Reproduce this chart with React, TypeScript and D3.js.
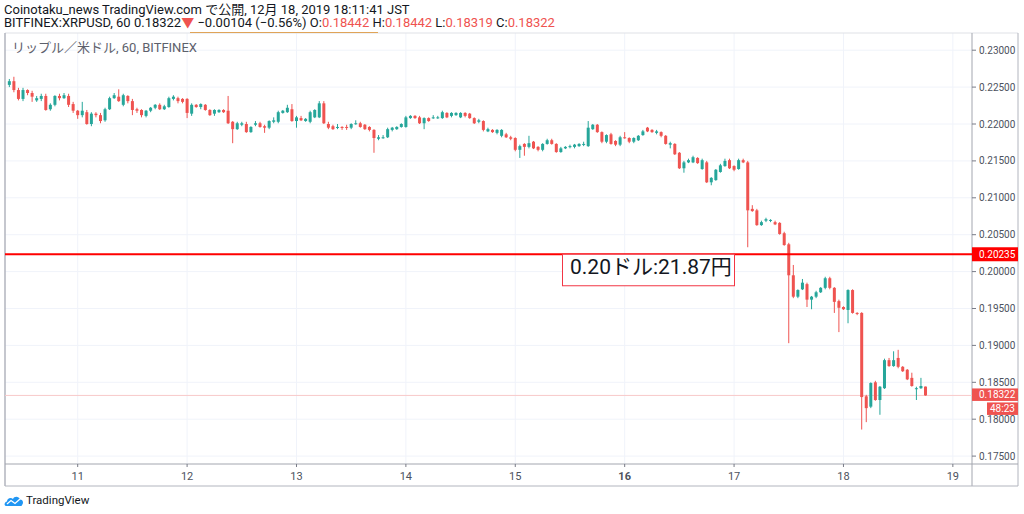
import * as d3 from 'd3'

type Candle = [number, number, number, number] // open, high, low, close

// hourly bars, Dec 10 starts at 09:00, other days at 00:00
const dec10: Candle[] = [
  [0.2253, 0.2261, 0.2250, 0.2258], [0.2258, 0.2264, 0.2243, 0.2246], [0.2246, 0.2249, 0.2232, 0.2234],
  [0.2234, 0.2249, 0.2231, 0.2246], [0.2246, 0.2247, 0.2239, 0.2242], [0.2242, 0.2245, 0.2230, 0.2237],
  [0.2232, 0.2238, 0.2230, 0.2235], [0.2234, 0.2241, 0.2231, 0.2238], [0.2238, 0.2241, 0.2218, 0.2219],
  [0.2220, 0.2228, 0.2218, 0.2226], [0.2226, 0.2239, 0.2224, 0.2238], [0.2238, 0.2241, 0.2232, 0.2235],
  [0.2235, 0.2242, 0.2234, 0.2239], [0.2238, 0.2241, 0.2223, 0.2226], [0.2227, 0.2230, 0.2215, 0.2218],
]
const dec11: Candle[] = [
  [0.2218, 0.2219, 0.2207, 0.2212], [0.2212, 0.2230, 0.2209, 0.2218], [0.2216, 0.2219, 0.2199, 0.2200],
  [0.2200, 0.2216, 0.2197, 0.2214], [0.2214, 0.2216, 0.2209, 0.2212], [0.2212, 0.2215, 0.2201, 0.2204],
  [0.2205, 0.2222, 0.2203, 0.2220], [0.2220, 0.2237, 0.2219, 0.2235], [0.2235, 0.2242, 0.2234, 0.2239],
  [0.2237, 0.2247, 0.2230, 0.2231], [0.2226, 0.2241, 0.2224, 0.2239], [0.2238, 0.2239, 0.2228, 0.2231],
  [0.2231, 0.2234, 0.2212, 0.2219], [0.2220, 0.2222, 0.2215, 0.2218], [0.2219, 0.2220, 0.2209, 0.2212],
  [0.2211, 0.2219, 0.2209, 0.2218], [0.2218, 0.2223, 0.2216, 0.2222], [0.2222, 0.2227, 0.2220, 0.2226],
  [0.2226, 0.2228, 0.2219, 0.2220], [0.2220, 0.2226, 0.2219, 0.2224], [0.2223, 0.2237, 0.2222, 0.2235],
  [0.2234, 0.2239, 0.2232, 0.2237], [0.2235, 0.2237, 0.2228, 0.2231], [0.2234, 0.2235, 0.2228, 0.2230],
]
const dec12: Candle[] = [
  [0.2234, 0.2235, 0.2208, 0.2215], [0.2214, 0.2228, 0.2211, 0.2226], [0.2226, 0.2227, 0.2222, 0.2223],
  [0.2223, 0.2228, 0.2220, 0.2227], [0.2226, 0.2227, 0.2218, 0.2219], [0.2219, 0.2220, 0.2211, 0.2212],
  [0.2214, 0.2220, 0.2211, 0.2219], [0.2216, 0.2220, 0.2215, 0.2219], [0.2219, 0.2220, 0.2215, 0.2216],
  [0.2218, 0.2238, 0.2200, 0.2201], [0.2203, 0.2204, 0.2174, 0.2193], [0.2193, 0.2203, 0.2192, 0.2201],
  [0.2199, 0.2203, 0.2197, 0.2201], [0.2200, 0.2203, 0.2188, 0.2189], [0.2189, 0.2197, 0.2188, 0.2196],
  [0.2199, 0.2204, 0.2197, 0.2201], [0.2201, 0.2203, 0.2195, 0.2196], [0.2197, 0.2199, 0.2188, 0.2195],
  [0.2195, 0.2205, 0.2193, 0.2204], [0.2203, 0.2209, 0.2201, 0.2205], [0.2203, 0.2218, 0.2201, 0.2216],
  [0.2215, 0.2219, 0.2214, 0.2218], [0.2216, 0.2226, 0.2215, 0.2222], [0.2220, 0.2227, 0.2203, 0.2204],
]
const dec13: Candle[] = [
  [0.2204, 0.2211, 0.2195, 0.2209], [0.2208, 0.2211, 0.2204, 0.2205], [0.2204, 0.2208, 0.2203, 0.2207],
  [0.2203, 0.2218, 0.2201, 0.2216], [0.2209, 0.2220, 0.2208, 0.2219], [0.2209, 0.2231, 0.2208, 0.2228],
  [0.2228, 0.2231, 0.2200, 0.2201], [0.2200, 0.2203, 0.2193, 0.2195], [0.2197, 0.2199, 0.2192, 0.2193],
  [0.2195, 0.2200, 0.2193, 0.2196], [0.2196, 0.2197, 0.2192, 0.2195], [0.2196, 0.2199, 0.2192, 0.2195],
  [0.2195, 0.2201, 0.2193, 0.2200], [0.2200, 0.2205, 0.2199, 0.2201], [0.2201, 0.2203, 0.2195, 0.2196],
  [0.2199, 0.2200, 0.2192, 0.2193], [0.2196, 0.2197, 0.2190, 0.2192], [0.2192, 0.2193, 0.2161, 0.2181],
  [0.2180, 0.2185, 0.2178, 0.2182], [0.2181, 0.2185, 0.2180, 0.2182], [0.2182, 0.2195, 0.2181, 0.2193],
  [0.2192, 0.2196, 0.2190, 0.2195], [0.2193, 0.2197, 0.2192, 0.2196], [0.2196, 0.2201, 0.2195, 0.2200],
]
const dec14: Candle[] = [
  [0.2196, 0.2211, 0.2195, 0.2209], [0.2208, 0.2212, 0.2207, 0.2211], [0.2211, 0.2212, 0.2207, 0.2208],
  [0.2209, 0.2211, 0.2200, 0.2201], [0.2201, 0.2209, 0.2193, 0.2208], [0.2208, 0.2209, 0.2203, 0.2204],
  [0.2208, 0.2212, 0.2207, 0.2209], [0.2208, 0.2211, 0.2207, 0.2209], [0.2208, 0.2218, 0.2207, 0.2216],
  [0.2215, 0.2216, 0.2208, 0.2209], [0.2211, 0.2216, 0.2209, 0.2215], [0.2212, 0.2216, 0.2211, 0.2215],
  [0.2209, 0.2216, 0.2208, 0.2215], [0.2215, 0.2216, 0.2209, 0.2211], [0.2214, 0.2215, 0.2207, 0.2208],
  [0.2208, 0.2209, 0.2200, 0.2201], [0.2203, 0.2207, 0.2201, 0.2205], [0.2204, 0.2205, 0.2190, 0.2192],
  [0.2190, 0.2195, 0.2189, 0.2193], [0.2192, 0.2193, 0.2188, 0.2189], [0.2188, 0.2193, 0.2186, 0.2192],
  [0.2184, 0.2193, 0.2182, 0.2192], [0.2186, 0.2188, 0.2181, 0.2182], [0.2182, 0.2184, 0.2178, 0.2180],
]
const dec15: Candle[] = [
  [0.2181, 0.2182, 0.2163, 0.2165], [0.2165, 0.2172, 0.2154, 0.2170], [0.2173, 0.2174, 0.2157, 0.2169],
  [0.2169, 0.2184, 0.2167, 0.2174], [0.2176, 0.2177, 0.2166, 0.2167], [0.2169, 0.2170, 0.2163, 0.2165],
  [0.2165, 0.2174, 0.2163, 0.2173], [0.2173, 0.2180, 0.2172, 0.2178], [0.2178, 0.2180, 0.2172, 0.2173],
  [0.2173, 0.2174, 0.2161, 0.2162], [0.2162, 0.2169, 0.2161, 0.2167], [0.2167, 0.2170, 0.2166, 0.2169],
  [0.2169, 0.2172, 0.2167, 0.2170], [0.2169, 0.2173, 0.2167, 0.2172], [0.2170, 0.2174, 0.2169, 0.2173],
  [0.2172, 0.2176, 0.2170, 0.2173], [0.2170, 0.2204, 0.2169, 0.2195], [0.2193, 0.2200, 0.2192, 0.2199],
  [0.2199, 0.2200, 0.2188, 0.2189], [0.2189, 0.2190, 0.2174, 0.2176], [0.2176, 0.2186, 0.2174, 0.2185],
  [0.2186, 0.2188, 0.2172, 0.2173], [0.2177, 0.2178, 0.2170, 0.2172], [0.2172, 0.2184, 0.2170, 0.2182],
]
const dec16: Candle[] = [
  [0.2182, 0.2189, 0.2180, 0.2181], [0.2181, 0.2182, 0.2174, 0.2176], [0.2176, 0.2182, 0.2174, 0.2181],
  [0.2178, 0.2185, 0.2177, 0.2184], [0.2185, 0.2192, 0.2184, 0.2190], [0.2195, 0.2196, 0.2189, 0.2190],
  [0.2192, 0.2193, 0.2188, 0.2189], [0.2188, 0.2192, 0.2186, 0.2190], [0.2189, 0.2190, 0.2182, 0.2184],
  [0.2184, 0.2185, 0.2172, 0.2173], [0.2172, 0.2176, 0.2167, 0.2174], [0.2173, 0.2174, 0.2158, 0.2159],
  [0.2161, 0.2162, 0.2139, 0.2140], [0.2140, 0.2150, 0.2134, 0.2148], [0.2148, 0.2153, 0.2147, 0.2151],
  [0.2148, 0.2157, 0.2147, 0.2155], [0.2154, 0.2155, 0.2146, 0.2147], [0.2139, 0.2153, 0.2138, 0.2151],
  [0.2148, 0.2150, 0.2120, 0.2121], [0.2121, 0.2128, 0.2117, 0.2127], [0.2124, 0.2139, 0.2123, 0.2138],
  [0.2135, 0.2146, 0.2134, 0.2144], [0.2143, 0.2153, 0.2142, 0.2150], [0.2151, 0.2153, 0.2139, 0.2140],
]
const dec17: Candle[] = [
  [0.2143, 0.2144, 0.2136, 0.2138], [0.2139, 0.2153, 0.2138, 0.2151], [0.2151, 0.2153, 0.2147, 0.2148],
  [0.2148, 0.2150, 0.2033, 0.2083], [0.2085, 0.2090, 0.2081, 0.2082], [0.2083, 0.2085, 0.2062, 0.2063],
  [0.2063, 0.2069, 0.2062, 0.2067], [0.2069, 0.2073, 0.2067, 0.2071], [0.2069, 0.2071, 0.2067, 0.2070],
  [0.2067, 0.2069, 0.2063, 0.2064], [0.2066, 0.2067, 0.2050, 0.2051], [0.2052, 0.2054, 0.2035, 0.2036],
  [0.2037, 0.2039, 0.1903, 0.1995], [0.1995, 0.2009, 0.1964, 0.1966], [0.1966, 0.1976, 0.1964, 0.1975],
  [0.1976, 0.1990, 0.1975, 0.1985], [0.1983, 0.1985, 0.1952, 0.1962], [0.1962, 0.1967, 0.1949, 0.1966],
  [0.1966, 0.1974, 0.1964, 0.1972], [0.1972, 0.1979, 0.1971, 0.1978], [0.1978, 0.1993, 0.1976, 0.1991],
  [0.1991, 0.1993, 0.1976, 0.1978], [0.1978, 0.1979, 0.1944, 0.1959], [0.1960, 0.1962, 0.1918, 0.1951],
]
const dec18: Candle[] = [
  [0.1952, 0.1953, 0.1948, 0.1949], [0.1948, 0.1976, 0.1930, 0.1975], [0.1975, 0.1976, 0.1943, 0.1944],
  [0.1944, 0.1945, 0.1941, 0.1943], [0.1944, 0.1945, 0.1786, 0.1830], [0.1831, 0.1833, 0.1796, 0.1815],
  [0.1817, 0.1850, 0.1815, 0.1849], [0.1850, 0.1852, 0.1825, 0.1826], [0.1826, 0.1845, 0.1806, 0.1844],
  [0.1842, 0.1882, 0.1841, 0.1880], [0.1880, 0.1883, 0.1871, 0.1872], [0.1872, 0.1892, 0.1871, 0.1880],
  [0.1883, 0.1894, 0.1869, 0.1871], [0.1871, 0.1872, 0.1864, 0.1865], [0.1867, 0.1868, 0.1853, 0.1854],
  [0.1856, 0.1863, 0.1844, 0.1845], [0.1841, 0.1844, 0.1826, 0.1842], [0.1842, 0.1856, 0.1841, 0.1845],
  [0.18442, 0.18442, 0.18319, 0.18322],
]

const dayBars: [number, Candle[]][] = [
  [Date.UTC(2019, 11, 10, 9), dec10],
  [Date.UTC(2019, 11, 11), dec11],
  [Date.UTC(2019, 11, 12), dec12],
  [Date.UTC(2019, 11, 13), dec13],
  [Date.UTC(2019, 11, 14), dec14],
  [Date.UTC(2019, 11, 15), dec15],
  [Date.UTC(2019, 11, 16), dec16],
  [Date.UTC(2019, 11, 17), dec17],
  [Date.UTC(2019, 11, 18), dec18],
]

const priceTicks = [0.175, 0.18, 0.185, 0.19, 0.195, 0.2, 0.205, 0.21, 0.215, 0.22, 0.225, 0.23]
const dayTicks = [11, 12, 13, 14, 15, 16, 17, 18, 19]
const boldDay = 16

const levelPrice = 0.20235
const lastPrice = 0.18322
const countdown = '48:23'
const noteText = '0.20ドル:21.87円'

const titleLine = 'Coinotaku_news TradingView.com で公開, 12月 18, 2019 18:11:41 JST'
const symbolText = 'BITFINEX:XRPUSD, 60 0.18322'
const changeText = ' −0.00104 (−0.56%)'
const ohlcLabels = ['O', 'H', 'L', 'C']
const ohlcValues = ['0.18442', '0.18442', '0.18319', '0.18322']
const legendText = 'リップル／米ドル, 60, BITFINEX'

const UP = '#26a69a'
const DOWN = '#ef5350'
const FONT = "Roboto, 'Noto Sans CJK JP', sans-serif"
const HOUR = 3600 * 1000

const W = 1024
const H = 514
const paneL = 5
const paneR = 972
const paneT = 33
const paneB = 464
const axisR = 1018
const timeB = 486

export default function App() {
  const candles = dayBars.flatMap(([start, bars]) =>
    bars.map((b, i) => ({ t: start + i * HOUR, o: b[0], h: b[1], l: b[2], c: b[3] }))
  )

  const day11 = Date.UTC(2019, 11, 11)
  const x = d3
    .scaleUtc()
    .domain([new Date(day11 - 15.95 * HOUR), new Date(day11 + 196.2 * HOUR)])
    .range([paneL, paneR])
  const y = d3.scaleLinear().domain([0.175, 0.23]).range([456.1, 50.2])

  const dayX = (d: number) => x(new Date(Date.UTC(2019, 11, d)))
  const bodyW = 3
  const axisFont = 10

  return (
    <svg
      width={W}
      height={H}
      style={{ position: 'absolute', left: 0, top: 0, background: '#fff' }}
      fontFamily={FONT}
    >
      <rect width={W} height={H} fill="#fff" />

      {/* header */}
      <text x={4} y={14} fontSize={13} fill="#131722">{titleLine}</text>
      <text x={4} y={27} fontSize={13} fill="#131722">
        {symbolText}
        <tspan fill={DOWN}>▼</tspan>
        {changeText}
        {ohlcLabels.map((lab, i) => (
          <tspan key={lab}>
            {' ' + lab + ':'}
            <tspan fill={DOWN}>{ohlcValues[i]}</tspan>
          </tspan>
        ))}
      </text>

      {/* grid */}
      <g stroke="#f0f3fa" strokeWidth={1}>
        {priceTicks.map(p => (
          <line key={p} x1={paneL} x2={paneR} y1={y(p)} y2={y(p)} />
        ))}
        {dayTicks.map(d => (
          <line key={d} x1={dayX(d)} x2={dayX(d)} y1={paneT} y2={paneB} />
        ))}
      </g>

      {/* frame */}
      <g fill="none">
        <line x1={paneL} x2={axisR} y1={paneT} y2={paneT} stroke="#dfe1e6" />
        <line x1={paneL} x2={paneL} y1={paneT} y2={timeB} strokeWidth={1.5} stroke="#b2b5be" />
        <line x1={axisR} x2={axisR} y1={paneT} y2={timeB} stroke="#b2b5be" />
        <line x1={paneR} x2={paneR} y1={paneT} y2={timeB} stroke="#a3a6af" />
        <line x1={paneL} x2={axisR} y1={paneB} y2={paneB} stroke="#a3a6af" />
        <line x1={paneL} x2={axisR} y1={timeB} y2={timeB} stroke="#b2b5be" />
      </g>
      <line x1={190} x2={378} y1={32.5} y2={32.5} stroke="#e0a458" strokeWidth={1} />

      <text x={12} y={52} fontSize={13} fill="#5d606b">{legendText}</text>

      {/* last price line */}
      <line x1={paneL} x2={paneR} y1={y(lastPrice)} y2={y(lastPrice)} stroke="#f8c9c9" strokeWidth={1} />

      {/* candles */}
      <g>
        {candles.map(d => {
          const cx = x(new Date(d.t))
          const col = d.c >= d.o ? UP : DOWN
          const top = y(Math.max(d.o, d.c))
          const bot = y(Math.min(d.o, d.c))
          return (
            <g key={d.t}>
              <line x1={cx} x2={cx} y1={y(d.h)} y2={y(d.l)} stroke={col} strokeWidth={1} />
              <rect x={cx - bodyW / 2} y={top} width={bodyW} height={Math.max(1, bot - top)} fill={col} />
            </g>
          )
        })}
      </g>

      {/* horizontal level */}
      <line x1={paneL} x2={paneR} y1={y(levelPrice)} y2={y(levelPrice)} stroke="#ff0000" strokeWidth={1.8} />

      {/* note */}
      <rect x={562.5} y={y(levelPrice)} width={172} height={31.5} fill="#fff" stroke="#f23645" strokeWidth={1} />
      <text x={570} y={273.5} fontSize={21} fill="#131722">{noteText}</text>

      {/* price axis */}
      <g fontSize={axisFont} fill="#4c525e">
        {priceTicks.map(p => (
          <g key={p}>
            <line x1={paneR} x2={paneR + 4} y1={y(p)} y2={y(p)} stroke="#787b86" />
            <text x={979} y={y(p) + 3.5}>{p.toFixed(5)}</text>
          </g>
        ))}
      </g>
      <rect x={paneR} y={y(levelPrice) - 7} width={axisR - paneR} height={14} fill="#ff0000" />
      <text x={979} y={y(levelPrice) + 3.5} fontSize={axisFont} fill="#fff">{levelPrice.toFixed(5)}</text>
      <rect x={paneR} y={y(lastPrice) - 7} width={axisR - paneR} height={12.5} fill={DOWN} />
      <text x={979} y={y(lastPrice) + 3} fontSize={axisFont} fill="#fff">{lastPrice.toFixed(5)}</text>
      <rect x={987} y={y(lastPrice) + 7} width={axisR - 987} height={12.5} fill={DOWN} />
      <text x={990} y={y(lastPrice) + 16.5} fontSize={axisFont} fill="#fff">{countdown}</text>

      {/* time axis */}
      <g fontSize={11} fill="#4c525e" textAnchor="middle">
        {dayTicks.map(d => (
          <g key={d}>
            <line x1={dayX(d)} x2={dayX(d)} y1={paneB} y2={paneB + 3} stroke="#787b86" />
            <text x={dayX(d)} y={480} fontWeight={d === boldDay ? 'bold' : 'normal'}>{d}</text>
          </g>
        ))}
      </g>

      {/* logo */}
      <g transform="translate(4,495)">
        <path
          d="M2,11 C0,11 0,7 3,6.5 C3,3 7,2 9,4 C10,1 15,1 16,4.5 C19,4.5 20,8 18,10 C18,11 17,11 16,11 Z"
          fill="#2196f3"
        />
        <polyline points="3,9 7,5.5 11,8.5 16,4" fill="none" stroke="#fff" strokeWidth={1.3} />
      </g>
      <text x={26} y={504} fontSize={11.5} fill="#131722">TradingView</text>
    </svg>
  )
}
